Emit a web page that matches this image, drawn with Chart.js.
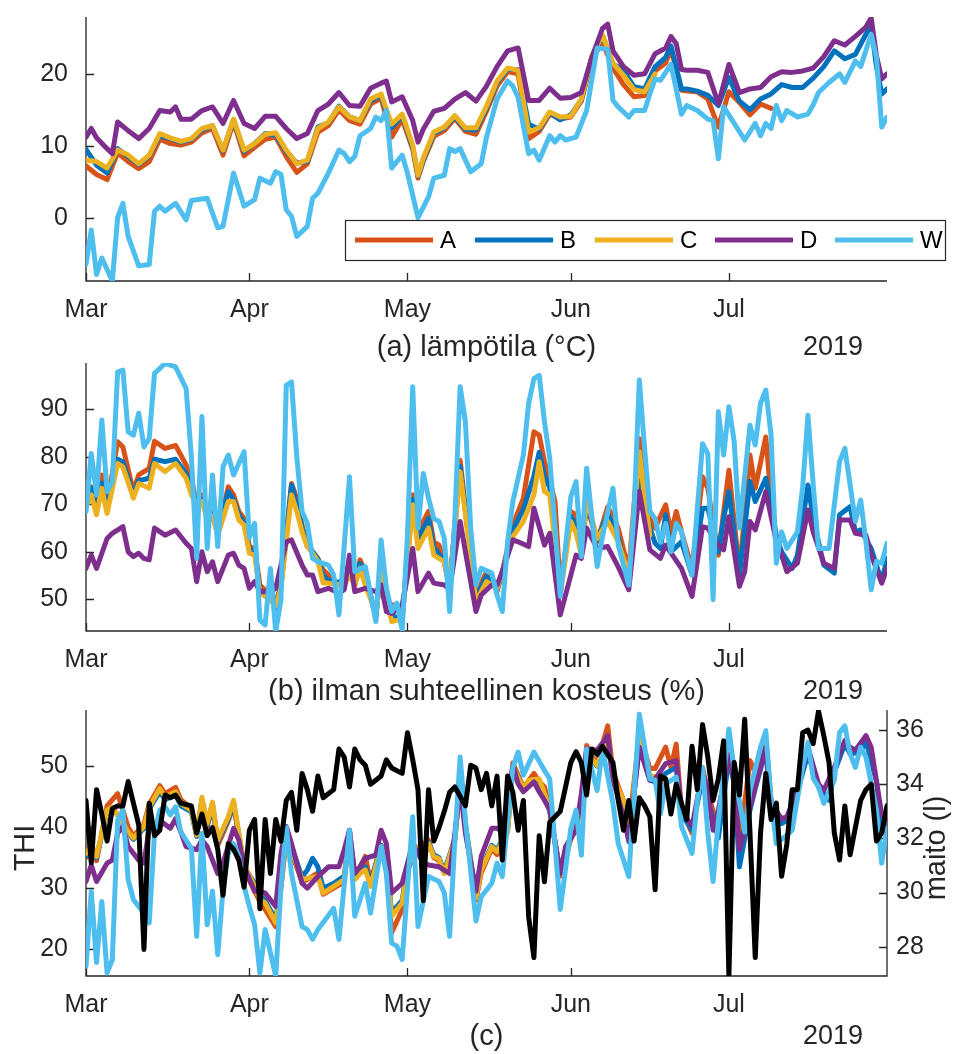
<!DOCTYPE html>
<html><head><meta charset="utf-8">
<script src="https://cdn.jsdelivr.net/npm/chart.js@4.4.0/dist/chart.umd.min.js"></script>
<style>
html,body{margin:0;padding:0;background:#fff;}
#wrap{position:relative;width:967px;height:1054px;overflow:hidden;background:#fff;}
canvas{position:absolute;left:0;}
</style></head><body>
<div id="wrap">
<canvas id="cA" width="967" height="362" style="top:0px"></canvas>
<canvas id="cB" width="967" height="365" style="top:340px"></canvas>
<canvas id="cC" width="967" height="364" style="top:690px"></canvas>
</div>
<script>
// ---- time axis (day index, 0 = 1 Mar 2019) ----
const xMin = 0, xMax = 152;
const monthTicks = [0, 31, 61, 92, 122];
const monthLabels = ['Mar', 'Apr', 'May', 'Jun', 'Jul'];
const yearLabel = '2019';
const seriesNames = ['A', 'B', 'C', 'D', 'W'];

// ---- (a) temperature, [day, value] ----
const tempA = [[0,7.2],[2,6.0],[4,5.3],[6,9.0],[8,7.8],[10,6.8],[12,7.8],[14,10.9],[16,10.3],[18,10.1],[20,10.5],[22,11.8],[24,12.4],[26,8.7],[28,13.3],[30,8.6],[32,9.8],[34,10.9],[36,11.2],[38,8.5],[40,6.3],[42,7.5],[44,11.9],[46,12.8],[48,15.0],[50,13.5],[52,13.0],[54,15.8],[56,16.6],[58,11.2],[60,13.7],[62,9.5],[63,5.5],[64,7.8],[66,11.3],[68,12.1],[70,13.8],[72,12.0],[74,11.6],[76,14.8],[78,18.3],[80,20.3],[82,20.0],[84,11.0],[86,12.0],[88,14.4],[90,13.7],[92,14.0],[94,16.2],[96,22.0],[98,24.4],[100,20.8],[102,18.5],[104,16.8],[106,17.0],[108,20.4],[110,21.5],[111,23.5],[113,17.7],[114,17.6],[116,17.5],[118,16.5],[120,12.6],[122,17.5],[124,16.0],[126,14.3],[128,15.8],[130,15.2]];
const tempB = [[0,9.5],[2,7.3],[4,6.2],[6,9.6],[8,8.5],[10,7.4],[12,8.6],[14,11.4],[16,11.0],[18,10.5],[20,10.9],[22,12.2],[24,12.8],[26,9.3],[28,13.6],[30,9.2],[32,10.3],[34,11.7],[36,11.5],[38,9.2],[40,7.6],[42,7.8],[44,12.6],[46,13.2],[48,15.5],[50,14.0],[52,13.5],[54,16.2],[56,17.0],[58,12.5],[60,14.2],[62,9.8],[63,5.8],[64,8.0],[66,11.7],[68,12.5],[70,14.0],[72,12.3],[74,12.2],[76,15.2],[78,18.8],[80,20.6],[82,20.6],[84,13.0],[86,12.3],[88,14.6],[90,13.6],[92,14.3],[94,16.4],[96,22.4],[98,25.3],[100,21.4],[102,20.5],[104,18.2],[106,17.9],[108,21.0],[110,22.3],[111,23.9],[113,17.9],[114,17.9],[116,17.6],[118,17.0],[120,15.6],[122,19.5],[124,16.2],[126,15.0],[128,16.5],[130,17.2],[132,18.5],[134,18.1],[136,18.1],[138,19.4],[140,21.0],[142,23.2],[144,22.1],[146,22.7],[148,25.5],[149,26.6],[150,21.0],[151,17.2],[152,17.9]];
const tempC = [[0,8.0],[2,7.8],[4,6.9],[6,9.4],[8,8.7],[10,7.5],[12,8.7],[14,11.7],[16,11.1],[18,10.6],[20,11.0],[22,12.4],[24,12.8],[26,9.4],[28,13.7],[30,9.4],[32,10.3],[34,11.6],[36,11.8],[38,9.4],[40,7.5],[42,8.0],[44,12.4],[46,13.3],[48,15.4],[50,14.0],[52,13.5],[54,16.5],[56,17.2],[58,13.0],[60,14.4],[62,10.1],[63,5.9],[64,8.3],[66,11.9],[68,12.6],[70,14.2],[72,12.5],[74,12.5],[76,15.5],[78,19.0],[80,20.8],[82,20.5],[84,11.9],[86,12.5],[88,14.7],[90,14.0],[92,14.1],[94,16.5],[96,22.5],[98,25.4],[100,21.5],[102,19.8],[104,17.8],[106,17.5],[108,20.0]];
const tempD = [[0,11.2],[1,12.4],[2,11.1],[4,9.6],[5,8.9],[6,13.3],[8,12.1],[10,11.0],[12,12.4],[14,14.9],[16,14.7],[17,15.4],[18,13.7],[20,13.7],[22,14.9],[24,15.4],[26,13.1],[28,16.3],[30,13.1],[32,12.4],[34,14.1],[36,14.1],[38,12.4],[40,11.0],[42,11.7],[44,14.9],[46,15.8],[48,17.4],[50,15.6],[52,15.5],[54,18.0],[56,18.7],[57,19.0],[58,16.1],[60,16.8],[62,13.5],[63,10.5],[64,12.3],[66,14.8],[68,15.2],[70,16.5],[72,17.4],[74,16.2],[76,18.3],[78,21.0],[80,23.2],[82,23.6],[84,16.3],[86,16.3],[88,18.0],[90,16.6],[92,16.7],[94,17.4],[96,22.3],[98,26.3],[99,26.9],[100,23.2],[102,21.0],[104,19.8],[106,20.0],[108,22.8],[110,23.6],[111,25.2],[112,24.2],[113,20.6],[114,20.5],[116,20.5],[118,20.2],[120,15.8],[122,21.3],[124,17.4],[126,17.9],[128,18.1],[130,19.6],[132,20.3],[134,20.2],[136,20.4],[138,20.8],[140,22.4],[142,24.6],[144,24.0],[146,25.2],[148,26.5],[149,27.8],[150,22.5],[151,19.3],[152,20.0]];
const tempW = [[0,-6.5],[1,-1.7],[2,-7.9],[3,-5.6],[5,-8.8],[6,0.0],[7,2.0],[8,-2.6],[10,-6.7],[12,-6.5],[13,0.9],[14,1.6],[15,0.9],[17,2.0],[19,-0.3],[20,2.4],[23,2.7],[25,-1.4],[26,-1.2],[28,6.2],[30,1.6],[32,2.5],[33,5.5],[35,4.8],[36,6.4],[37,6.0],[38,1.1],[39,0.2],[40,-2.6],[42,-1.2],[43,2.7],[44,3.4],[46,6.2],[48,9.4],[49,8.9],[50,7.8],[51,8.5],[52,11.4],[54,12.4],[55,14.0],[56,13.5],[57,14.9],[58,6.9],[60,8.7],[61,6.2],[63,0.0],[65,2.9],[66,5.5],[68,5.9],[69,9.6],[70,9.2],[71,9.6],[73,6.4],[75,7.5],[76,11.2],[78,16.5],[80,19.0],[81,18.3],[82,16.7],[84,8.9],[85,9.4],[86,8.0],[88,11.4],[89,10.5],[90,11.4],[91,10.8],[93,11.2],[95,14.9],[97,23.6],[99,23.4],[100,16.3],[101,15.4],[103,14.0],[104,14.9],[106,14.9],[107,17.2],[108,19.3],[109,19.1],[111,21.3],[113,14.4],[114,15.6],[116,14.9],[118,13.7],[119,13.5],[120,8.2],[121,15.4],[123,13.1],[125,10.8],[127,13.1],[128,11.4],[129,13.1],[130,12.4],[131,15.6],[132,13.5],[133,14.9],[135,14.0],[137,14.4],[138,15.7],[139,17.4],[141,18.8],[143,20.0],[144,18.8],[146,21.8],[147,21.0],[149,25.5],[150,22.3],[151,12.6],[152,14.0]];

// ---- (b) relative humidity (%) ----
const rhA = [[0,71.3],[1,73.7],[2,69.2],[3,76.2],[4,69.9],[6,83.2],[7,82.1],[9,72.7],[10,76.2],[12,77.6],[13,83.3],[15,81.8],[17,82.4],[19,78.3],[20,75.5],[21,69.9],[22,72.0],[23,67.8],[24,68.5],[25,64.2],[27,73.7],[28,72.0],[29,68.5],[30,67.0],[31,61.1],[32,60.7],[33,53.0],[35,50.9],[36,49.2],[37,53.0],[39,74.4],[40,71.3],[41,65.6],[42,61.4],[43,60.0],[44,58.6],[45,56.2],[46,55.1],[48,53.0],[49,52.5],[50,56.5],[51,53.0],[52,58.3],[53,55.8],[55,46.0],[56,57.9],[57,48.8],[59,48.8],[60,46.0],[62,72.0],[63,64.2],[65,68.5],[66,62.1],[67,61.4],[68,57.9],[69,52.3],[71,79.3],[72,69.2],[74,50.9],[76,55.8],[77,54.4],[78,51.6],[79,55.8],[81,65.6],[83,71.3],[85,85.3],[86,84.6],[87,79.0],[88,75.1],[89,70.6],[90,52.3],[92,68.5],[93,67.8],[94,60.0],[95,69.9],[97,62.1],[99,69.5],[101,65.0],[103,56.0],[105,83.9],[106,72.7],[107,67.0],[108,65.0],[110,69.9],[111,63.9],[112,68.5],[113,64.2],[115,56.5],[117,75.8],[118,73.4],[120,59.3],[121,68.5],[122,77.2],[124,55.8],[126,80.4],[127,73.4],[129,84.2],[130,71.3]];
const rhB = [[0,70.0],[1,73.4],[2,68.5],[3,74.5],[4,69.0],[6,79.5],[7,79.0],[9,72.0],[10,75.0],[12,75.5],[13,79.5],[15,79.0],[17,79.5],[19,76.5],[20,73.5],[21,70.0],[22,71.0],[23,67.5],[24,68.0],[25,64.0],[27,72.7],[28,71.0],[29,67.8],[30,66.0],[31,60.5],[32,60.0],[33,52.0],[35,50.5],[36,48.1],[37,52.8],[39,74.1],[40,70.0],[41,65.0],[42,61.1],[43,60.0],[44,58.5],[45,55.0],[46,54.0],[48,53.5],[50,56.0],[51,53.0],[52,57.5],[53,54.5],[55,46.5],[56,57.0],[58,46.5],[60,46.0],[62,71.0],[63,62.5],[65,67.0],[66,61.0],[68,57.9],[69,52.3],[71,78.0],[72,68.5],[74,50.2],[76,54.8],[78,52.0],[79,55.8],[81,64.5],[83,69.0],[85,76.0],[86,81.0],[87,76.0],[88,73.5],[90,51.5],[92,67.5],[93,65.5],[94,59.5],[95,70.6],[97,62.5],[99,68.0],[101,63.0],[103,53.7],[105,75.5],[106,68.5],[108,61.8],[109,60.7],[110,67.8],[111,60.0],[113,62.1],[115,55.1],[117,69.2],[118,69.2],[120,60.0],[121,67.0],[122,72.7],[124,55.1],[126,74.8],[127,70.6],[129,75.5],[131,63.5],[132,60.0],[134,56.5],[135,59.3],[137,74.1],[138,67.0],[140,57.2],[142,55.5],[143,67.8],[145,69.5],[146,64.2],[147,64.6],[149,60.7],[151,53.7],[152,58.6]];
const rhC = [[0,69.5],[1,72.0],[2,67.8],[3,73.4],[4,68.1],[6,78.6],[7,77.9],[9,71.3],[10,74.4],[12,73.4],[13,78.6],[15,76.9],[17,78.6],[19,75.5],[20,72.0],[21,69.9],[22,70.6],[23,67.0],[24,67.5],[25,63.5],[27,70.6],[28,70.6],[29,66.7],[30,65.6],[31,59.7],[32,59.3],[33,51.3],[35,49.9],[36,48.5],[37,52.3],[39,72.0],[40,68.5],[41,64.2],[42,61.1],[43,59.7],[44,58.0],[45,53.4],[46,53.4],[48,53.0],[50,55.1],[51,53.0],[52,56.5],[53,53.0],[55,47.0],[56,55.8],[58,45.3],[60,45.8],[62,69.9],[63,60.7],[65,65.0],[66,59.3],[68,57.9],[69,52.3],[71,76.9],[72,67.8],[74,49.5],[76,53.7],[78,52.3],[79,55.8],[81,63.2],[83,66.4],[85,72.0],[86,79.0],[87,72.7],[88,72.0],[90,50.9],[92,66.4],[93,63.9],[94,59.3],[95,71.3],[97,62.8],[99,66.4],[101,62.1],[103,55.0],[105,81.1],[106,71.3],[107,63.5]];
const rhD = [[0,56.5],[1,59.3],[2,56.5],[4,62.8],[5,63.9],[7,65.3],[8,60.0],[9,59.0],[10,59.7],[11,58.6],[12,58.3],[13,65.0],[15,63.5],[17,64.6],[19,61.8],[20,60.7],[21,53.7],[22,60.0],[23,55.8],[24,57.9],[25,53.7],[27,59.3],[28,59.7],[29,57.2],[30,56.5],[31,52.3],[32,53.7],[33,51.6],[35,51.6],[36,52.3],[38,62.1],[39,62.5],[41,57.2],[42,55.1],[43,55.1],[44,51.6],[46,52.3],[48,51.3],[49,52.0],[50,59.3],[51,51.6],[53,52.3],[55,51.6],[56,53.0],[57,47.4],[58,47.0],[60,48.8],[62,60.7],[63,51.6],[65,55.5],[66,53.4],[68,53.0],[69,52.0],[71,66.4],[72,60.0],[74,47.4],[75,50.9],[77,53.0],[78,53.0],[79,55.8],[81,62.5],[82,62.1],[84,61.1],[85,69.2],[87,61.4],[88,63.9],[90,46.7],[92,55.1],[93,59.3],[94,58.6],[95,65.0],[97,60.7],[99,61.1],[101,56.8],[103,52.0],[105,72.7],[107,60.4],[109,58.6],[110,61.4],[113,56.5],[115,50.6],[117,65.3],[118,65.0],[120,61.4],[121,60.4],[122,67.4],[124,52.7],[125,55.8],[126,66.4],[127,64.6],[129,72.7],[131,62.1],[132,59.3],[133,55.8],[135,57.6],[137,68.8],[138,64.2],[140,57.6],[142,56.5],[143,66.7],[145,66.7],[146,63.9],[148,63.5],[149,59.3],[151,53.4],[152,56.5]];
const rhW = [[0,68.5],[1,80.7],[2,72.0],[3,87.8],[4,72.7],[5,74.8],[6,97.9],[7,98.3],[8,85.3],[9,84.6],[10,89.2],[11,82.1],[12,83.9],[13,97.6],[15,99.7],[17,99.0],[19,94.4],[20,80.0],[21,58.6],[22,88.5],[23,60.7],[24,76.2],[25,61.1],[26,77.9],[27,80.4],[28,76.2],[30,81.1],[31,63.0],[32,66.0],[33,45.6],[34,44.6],[35,56.5],[36,43.2],[37,49.9],[38,95.1],[39,95.8],[40,80.0],[41,68.5],[42,66.0],[43,58.6],[44,57.9],[46,57.2],[47,55.1],[48,46.7],[50,75.8],[51,55.8],[53,56.9],[55,45.3],[56,62.5],[57,52.3],[58,47.4],[59,49.2],[60,43.5],[61,63.5],[62,94.8],[63,65.0],[64,76.5],[65,71.3],[66,67.0],[67,66.4],[68,62.8],[69,47.4],[70,67.0],[71,94.8],[72,87.4],[73,65.0],[74,53.0],[75,56.5],[77,55.5],[78,50.9],[79,47.4],[80,62.1],[81,70.6],[83,80.4],[84,91.3],[85,96.5],[86,97.2],[87,87.4],[88,79.7],[90,50.6],[92,71.6],[93,74.8],[94,59.0],[95,77.6],[97,56.9],[98,63.2],[100,73.4],[101,61.4],[103,53.0],[104,68.5],[105,96.2],[106,81.8],[107,68.5],[108,67.0],[109,62.0],[110,66.0],[111,60.0],[112,66.0],[113,64.2],[114,59.3],[115,55.1],[117,82.8],[118,80.7],[119,49.9],[120,89.5],[121,80.4],[122,90.6],[123,83.2],[124,65.0],[126,86.7],[127,82.5],[128,91.3],[129,94.1],[130,84.6],[131,57.6],[132,64.2],[133,60.7],[135,64.2],[136,73.7],[137,88.8],[138,74.1],[139,60.7],[141,60.7],[143,79.0],[144,81.8],[146,66.4],[147,70.9],[148,62.1],[149,52.0],[150,58.0],[151,57.6],[152,61.8]];

// ---- (c) THI and milk yield (l) ----
const thiA = [[0,35.0],[1,37.5],[2,34.5],[4,43.5],[6,45.5],[8,40.0],[9,38.5],[11,40.5],[12,43.8],[14,46.8],[15,45.5],[17,46.5],[18,44.5],[20,43.0],[21,38.5],[22,44.5],[23,40.0],[24,43.5],[25,37.0],[27,41.0],[28,43.5],[29,38.5],[30,33.0],[32,29.5],[33,27.8],[34,26.5],[36,23.7],[37,30.0],[38,38.0],[39,35.8],[41,31.0],[42,31.4],[44,32.5],[45,29.0],[47,30.0],[49,31.0],[50,39.0],[51,31.5],[52,33.5],[53,35.2],[54,31.0],[56,37.0],[57,34.0],[58,22.7],[60,26.5],[61,33.0],[63,36.5],[65,37.9],[66,35.0],[67,34.5],[68,32.5],[70,38.0],[71,47.5],[72,40.0],[74,28.0],[75,32.5],[77,36.5],[78,35.5],[80,39.5],[81,50.5],[83,46.5],[85,48.8],[86,47.5],[87,46.6],[88,43.0],[90,32.0],[92,38.0],[94,42.5],[95,53.4],[96,51.5],[97,50.5],[99,56.6],[100,49.0],[102,44.4],[103,39.5],[105,55.3],[107,49.6],[108,49.6],[110,53.1],[111,49.8],[112,53.6],[113,42.8],[115,39.0],[117,49.8],[118,45.5],[120,39.8],[121,47.1],[122,52.0],[123,50.4],[124,37.3],[126,50.9],[127,49.0],[129,54.2],[130,44.4]];
const thiB = [[0,35.2],[1,36.5],[2,35.0],[4,42.5],[5,43.0],[6,42.0],[8,39.0],[9,38.0],[11,39.8],[12,43.0],[14,45.8],[15,44.5],[17,45.3],[18,43.5],[20,42.5],[21,38.5],[22,44.5],[23,40.3],[24,43.8],[25,37.6],[27,41.3],[28,44.0],[29,38.8],[30,33.5],[32,30.8],[33,28.8],[34,28.0],[36,24.8],[37,31.0],[38,38.8],[39,36.8],[41,31.8],[42,33.0],[43,34.9],[44,33.5],[45,30.0],[47,30.8],[49,32.0],[50,39.5],[51,31.8],[52,32.8],[53,33.5],[54,30.8],[56,37.0],[57,34.8],[58,26.0],[60,28.0],[61,33.5],[63,36.5],[64,34.5],[65,37.5],[66,35.5],[67,35.0],[68,32.8],[70,38.0],[71,47.5],[72,40.5],[74,28.8],[75,33.3],[77,37.0],[78,36.3],[80,39.5],[81,49.5],[83,46.5],[84,47.5],[86,47.6],[87,45.3],[88,42.6],[90,32.6],[92,38.6],[94,42.5],[95,52.5],[96,51.0],[97,50.0],[99,54.3],[100,48.0],[102,42.2],[103,37.6],[105,53.4],[107,47.7],[108,47.4],[110,48.8],[111,49.3],[112,49.8],[113,42.2],[115,39.5],[117,48.2],[118,44.4],[120,38.2],[121,44.9],[122,51.2],[123,47.1],[124,33.5],[126,42.8],[127,46.3],[129,52.6],[130,43.9],[132,40.6],[133,41.1],[135,45.8],[137,52.0],[139,46.6],[141,44.4],[142,49.0],[144,53.6],[145,52.0],[147,52.3],[148,54.2],[150,47.5],[151,40.0],[152,41.1]];
const thiC = [[0,35.7],[1,36.8],[2,35.2],[4,42.8],[5,43.3],[6,42.0],[8,39.2],[9,38.2],[11,40.1],[12,43.3],[14,46.3],[15,44.9],[17,45.8],[18,43.9],[20,42.8],[21,38.7],[22,44.9],[23,40.6],[24,44.1],[25,37.9],[27,41.7],[28,44.4],[29,39.0],[30,33.8],[32,30.3],[33,28.1],[34,27.6],[36,24.3],[37,30.8],[38,38.4],[39,36.3],[41,31.4],[42,31.6],[44,31.9],[45,29.2],[47,30.3],[49,31.4],[50,39.5],[51,31.4],[52,32.4],[53,33.0],[54,30.3],[56,36.8],[57,34.6],[58,25.4],[60,27.6],[61,33.5],[63,36.8],[64,34.5],[65,37.3],[66,35.2],[67,34.8],[68,32.4],[70,37.9],[71,47.7],[72,40.1],[74,28.4],[75,33.0],[77,36.8],[78,36.0],[80,39.2],[81,49.8],[83,46.3],[84,47.7],[86,47.9],[87,45.5],[88,42.8],[90,32.4],[92,38.4],[94,42.2],[95,52.6],[96,51.2],[97,50.1],[99,54.5],[100,48.2],[102,44.4],[103,37.9],[105,54.7],[107,48.5],[108,48.2]];
const thiD = [[0,31.1],[1,33.8],[2,31.1],[4,34.1],[5,34.6],[6,39.0],[7,40.1],[8,36.8],[10,34.6],[11,34.1],[12,39.8],[13,39.8],[14,41.1],[16,39.8],[17,41.4],[18,39.2],[19,36.8],[21,36.3],[22,37.9],[23,36.8],[25,32.4],[26,34.1],[28,39.8],[29,37.9],[30,33.5],[32,29.5],[33,29.5],[34,29.2],[36,27.0],[37,35.7],[38,40.1],[39,37.3],[41,30.8],[42,30.0],[44,31.9],[46,33.5],[48,33.5],[49,36.3],[50,39.5],[51,32.4],[52,33.5],[53,34.9],[55,35.4],[56,39.5],[57,37.3],[58,29.2],[60,30.8],[62,37.3],[64,34.1],[65,33.8],[67,33.5],[69,32.4],[70,39.0],[71,46.6],[72,39.0],[74,29.5],[75,35.2],[77,39.8],[78,39.8],[79,39.3],[81,50.1],[82,47.1],[83,45.8],[85,47.4],[86,45.8],[87,44.4],[88,42.8],[90,32.4],[91,36.8],[93,39.5],[94,45.5],[95,52.8],[97,52.6],[99,55.0],[100,47.7],[102,41.7],[103,37.9],[105,53.1],[107,47.7],[108,47.9],[110,50.4],[112,50.9],[113,42.8],[115,40.1],[117,49.0],[118,46.0],[119,39.5],[120,42.8],[122,51.7],[123,47.4],[124,36.3],[126,43.3],[127,46.6],[129,53.1],[130,43.9],[132,41.4],[133,41.7],[135,46.0],[137,53.1],[139,47.1],[140,46.0],[142,49.8],[144,54.2],[145,53.1],[146,52.6],[148,55.0],[149,53.1],[151,42.0],[152,41.5]];
const thiW = [[0,17.2],[1,29.5],[2,17.8],[3,27.8],[4,16.1],[5,18.3],[6,41.1],[7,42.8],[8,31.4],[9,28.1],[11,25.9],[12,24.3],[13,39.0],[14,42.8],[15,43.3],[16,42.0],[17,43.3],[18,39.2],[20,36.5],[21,22.1],[22,39.0],[23,24.0],[24,29.5],[25,19.1],[26,29.7],[27,35.7],[28,37.3],[29,35.2],[30,30.3],[31,27.0],[32,24.0],[33,16.1],[34,23.2],[36,15.6],[37,30.3],[38,40.0],[39,32.4],[41,23.7],[42,23.2],[43,21.6],[44,23.2],[47,26.7],[48,21.6],[50,39.5],[51,25.4],[53,30.8],[54,25.9],[56,36.8],[57,32.4],[58,21.0],[59,20.5],[60,18.3],[62,41.7],[63,23.7],[65,31.9],[67,31.1],[68,29.2],[69,22.1],[70,37.9],[71,51.5],[72,41.1],[74,24.6],[75,28.6],[77,30.8],[78,34.1],[79,31.9],[81,49.8],[82,52.3],[83,48.5],[85,52.3],[87,49.3],[88,47.9],[90,26.5],[92,39.8],[93,42.8],[94,35.4],[95,52.8],[97,46.0],[98,52.8],[100,43.9],[101,37.3],[103,31.9],[105,58.5],[107,47.9],[108,47.7],[109,42.2],[110,47.1],[112,48.2],[113,40.1],[115,35.7],[116,44.4],[117,49.8],[118,39.0],[119,31.1],[120,41.1],[122,56.1],[123,49.3],[125,39.2],[126,46.0],[127,49.6],[128,53.1],[129,55.8],[130,44.4],[131,37.3],[133,38.7],[134,39.5],[136,49.8],[137,53.9],[138,48.0],[139,46.6],[140,43.9],[142,47.7],[143,55.5],[144,56.6],[145,52.0],[146,49.8],[147,53.1],[148,51.5],[150,42.8],[151,34.1],[152,39.8]];
const milk = [[0,33.4],[1,31.1],[2,33.8],[3,32.9],[4,31.9],[5,33.1],[6,33.2],[7,33.2],[8,34.1],[9,33.3],[10,32.5],[11,27.9],[12,33.3],[13,32.1],[14,32.3],[15,33.6],[16,33.5],[17,33.6],[18,33.3],[20,33.2],[21,32.2],[22,32.9],[23,32.1],[24,32.4],[25,31.6],[26,29.9],[27,31.8],[28,31.6],[29,31.2],[30,30.2],[31,32.3],[32,32.7],[33,29.4],[34,32.7],[35,30.7],[36,32.7],[37,31.9],[38,33.4],[39,33.7],[40,32.3],[41,34.4],[42,33.8],[43,33.0],[44,34.3],[45,33.5],[47,33.8],[48,35.3],[49,35.0],[50,33.9],[51,35.3],[52,34.9],[53,34.7],[54,34.0],[56,34.3],[57,34.9],[58,34.6],[60,34.4],[61,35.9],[62,34.9],[63,33.8],[64,29.7],[65,33.8],[66,31.9],[67,32.4],[68,33.0],[69,33.7],[70,33.9],[72,33.2],[73,34.7],[74,34.6],[75,33.8],[76,34.4],[77,33.2],[78,34.3],[79,31.2],[80,34.3],[81,33.7],[82,32.3],[83,33.4],[84,29.1],[85,27.6],[86,32.1],[87,30.4],[88,32.6],[90,33.0],[91,33.9],[92,34.8],[93,35.2],[94,34.8],[95,33.6],[96,35.3],[97,35.1],[98,35.4],[100,34.8],[101,33.4],[102,32.3],[103,33.4],[104,31.9],[105,33.5],[106,33.2],[107,32.8],[108,30.1],[109,34.3],[110,34.2],[111,32.9],[112,34.0],[113,33.3],[114,32.7],[115,35.4],[116,33.8],[117,36.2],[118,35.0],[119,33.4],[120,34.2],[121,35.6],[122,26.9],[123,34.8],[124,33.6],[125,36.4],[126,32.2],[127,27.6],[128,32.2],[129,34.4],[130,32.7],[131,33.3],[132,30.6],[133,31.8],[134,33.8],[135,33.8],[136,35.9],[137,36.0],[138,35.5],[139,36.7],[140,35.8],[141,34.8],[142,32.2],[143,31.2],[144,33.2],[145,31.4],[147,33.4],[148,33.8],[149,34.0],[150,31.9],[151,32.2],[152,33.2]];

// ---- axis ranges & ticks ----
const tempRange = [-8.8, 27.9], tempTicks = [0, 10, 20];
const rhRange = [43.3, 99.8], rhTicks = [50, 60, 70, 80, 90];
const thiRange = [15.6, 59.2], thiTicks = [20, 30, 40, 50];
const milkRange = [26.92, 36.74], milkTicks = [28, 30, 32, 34, 36];

// ---- styling ----
const FONT = '"Liberation Sans", Arial, Helvetica, sans-serif';
const TXT = '#262626';
const COLORS = ['#D95319', '#0072BD', '#EDB120', '#7E2F8E', '#4DBEEE'];
const MILK_COLOR = '#000000';
const LW = 5;
const TICK_FONT = 25, LABEL_FONT = 29, YEAR_FONT = 27, LEGEND_FONT = 24;

// order: later series drawn on top (as in the original plot)
function ds(label, data, color, drawIndex, axis) {
  return { label, data: data.map(p => ({ x: p[0], y: p[1] })), borderColor: color, backgroundColor: color,
    borderWidth: LW, pointRadius: 0, pointHoverRadius: 0, tension: 0, fill: false,
    borderJoinStyle: 'round', borderCapStyle: 'round', yAxisID: axis || 'y', order: 10 - drawIndex };
}
function zeroPad(s) { s.paddingTop = 0; s.paddingBottom = 0; s.paddingLeft = 0; s.paddingRight = 0; }
function xScale(h) {
  return { type: 'linear', min: xMin, max: xMax, position: 'bottom',
    grid: { display: false, drawTicks: false }, border: { display: false },
    afterBuildTicks: s => { s.ticks = monthTicks.map(v => ({ value: v })); },
    ticks: { autoSkip: false, maxRotation: 0, minRotation: 0, padding: 14, color: TXT,
      font: { family: FONT, size: TICK_FONT }, callback: v => monthLabels[monthTicks.indexOf(v)] },
    afterFit: s => { s.height = h; zeroPad(s); } };
}
function yScale(range, ticks, pos, w, pad) {
  return { type: 'linear', min: range[0], max: range[1], position: pos,
    grid: { display: false, drawTicks: false }, border: { display: false },
    afterBuildTicks: s => { s.ticks = ticks.map(v => ({ value: v })); },
    ticks: { autoSkip: false, padding: pad, color: TXT, font: { family: FONT, size: TICK_FONT } },
    afterFit: s => { s.width = w; zeroPad(s); } };
}

function decoPlugin(cfg) {
  return {
    id: 'deco',
    beforeDatasetsDraw(chart) {
      const { ctx, chartArea: a } = chart;
      ctx.save();
      ctx.strokeStyle = TXT; ctx.lineWidth = 1.3; ctx.lineCap = 'butt';
      ctx.beginPath();
      ctx.moveTo(a.left, a.top); ctx.lineTo(a.left, a.bottom); ctx.lineTo(a.right, a.bottom);
      if (cfg.right) ctx.lineTo(a.right, a.top);
      ctx.stroke();
      const TL = 8;
      ctx.beginPath();
      const xs = chart.scales.x;
      monthTicks.forEach(v => { const p = Math.round(xs.getPixelForValue(v)) + 0.5; ctx.moveTo(p, a.bottom); ctx.lineTo(p, a.bottom - TL); });
      const ys = chart.scales.y;
      ys.ticks.forEach(t => { const p = Math.round(ys.getPixelForValue(t.value)) + 0.5; ctx.moveTo(a.left, p); ctx.lineTo(a.left + TL, p); });
      if (cfg.right) {
        const y2 = chart.scales.y2;
        y2.ticks.forEach(t => { const p = Math.round(y2.getPixelForValue(t.value)) + 0.5; ctx.moveTo(a.right, p); ctx.lineTo(a.right - TL, p); });
      }
      ctx.stroke();
      ctx.restore();
    },
    afterDatasetsDraw(chart) {
      if (!cfg.legend) return;
      const { ctx } = chart;
      const L = cfg.legend;
      ctx.save();
      ctx.fillStyle = '#ffffff';
      ctx.fillRect(L.x, L.y, L.w, L.h);
      ctx.strokeStyle = TXT; ctx.lineWidth = 1.2;
      ctx.strokeRect(L.x + 0.5, L.y + 0.5, L.w, L.h);
      const cy = L.y + L.h / 2;
      chart.data.datasets.forEach((d, i) => {
        const x0 = L.x + 10 + i * 120;
        ctx.strokeStyle = d.borderColor; ctx.lineWidth = LW; ctx.lineCap = 'butt';
        ctx.beginPath(); ctx.moveTo(x0, cy); ctx.lineTo(x0 + 78, cy); ctx.stroke();
        ctx.fillStyle = '#000'; ctx.font = LEGEND_FONT + 'px ' + FONT;
        ctx.textAlign = 'left'; ctx.textBaseline = 'middle';
        ctx.fillText(d.label, x0 + 85, cy + 1);
      });
      ctx.restore();
    },
    afterDraw(chart) {
      const { ctx, chartArea: a } = chart;
      ctx.save();
      ctx.fillStyle = TXT;
      ctx.textBaseline = 'middle';
      ctx.font = LABEL_FONT + 'px ' + FONT;
      ctx.textAlign = 'center';
      ctx.fillText(cfg.title, (a.left + a.right) / 2, cfg.titleY);
      ctx.font = YEAR_FONT + 'px ' + FONT;
      ctx.textAlign = 'right';
      ctx.fillText(yearLabel, 863, cfg.titleY);
      if (cfg.yTitle) {
        ctx.font = LABEL_FONT + 'px ' + FONT;
        ctx.textAlign = 'center';
        ctx.save(); ctx.translate(26, (a.top + a.bottom) / 2 + 5); ctx.rotate(-Math.PI / 2);
        ctx.fillText(cfg.yTitle, 0, 0); ctx.restore();
      }
      if (cfg.y2Title) {
        ctx.font = LABEL_FONT + 'px ' + FONT;
        ctx.textAlign = 'center';
        ctx.save(); ctx.translate(937, (a.top + a.bottom) / 2 + 5); ctx.rotate(-Math.PI / 2);
        ctx.fillText(cfg.y2Title, 0, 0); ctx.restore();
      }
      ctx.restore();
    }
  };
}

const baseOpts = { responsive: false, animation: false, devicePixelRatio: 1, events: [],
  plugins: { legend: { display: false }, tooltip: { enabled: false } } };

// (a)
new Chart(document.getElementById('cA'), {
  type: 'line',
  data: { datasets: [ds(seriesNames[0], tempA, COLORS[0], 0), ds(seriesNames[1], tempB, COLORS[1], 1), ds(seriesNames[2], tempC, COLORS[2], 2), ds(seriesNames[3], tempD, COLORS[3], 3), ds(seriesNames[4], tempW, COLORS[4], 4)] },
  options: Object.assign({}, baseOpts, {
    layout: { padding: { top: 17, left: 0, right: 80, bottom: 0 } },
    scales: { x: xScale(81), y: yScale(tempRange, tempTicks, 'left', 86, 18) }
  }),
  plugins: [decoPlugin({ title: '(a) lämpötila (°C)', titleY: 348, legend: { x: 345, y: 220, w: 600, h: 40 } })]
});

// (b)
new Chart(document.getElementById('cB'), {
  type: 'line',
  data: { datasets: [ds(seriesNames[0], rhA, COLORS[0], 0), ds(seriesNames[1], rhB, COLORS[1], 1), ds(seriesNames[2], rhC, COLORS[2], 2), ds(seriesNames[3], rhD, COLORS[3], 3), ds(seriesNames[4], rhW, COLORS[4], 4)] },
  options: Object.assign({}, baseOpts, {
    layout: { padding: { top: 23, left: 0, right: 80, bottom: 0 } },
    scales: { x: xScale(74), y: yScale(rhRange, rhTicks, 'left', 86, 18) }
  }),
  plugins: [decoPlugin({ title: '(b) ilman suhteellinen kosteus (%)', titleY: 352 })]
});

// (c)
new Chart(document.getElementById('cC'), {
  type: 'line',
  data: { datasets: [ds(seriesNames[0], thiA, COLORS[0], 0), ds(seriesNames[1], thiB, COLORS[1], 1), ds(seriesNames[2], thiC, COLORS[2], 2), ds(seriesNames[3], thiD, COLORS[3], 3), ds(seriesNames[4], thiW, COLORS[4], 4), ds('maito', milk, MILK_COLOR, 5, 'y2')] },
  options: Object.assign({}, baseOpts, {
    layout: { padding: { top: 20, left: 0, right: 0, bottom: 0 } },
    scales: { x: xScale(78), y: yScale(thiRange, thiTicks, 'left', 86, 18), y2: yScale(milkRange, milkTicks, 'right', 80, 9) }
  }),
  plugins: [decoPlugin({ title: '(c)', titleY: 347, right: true, yTitle: 'THI', y2Title: 'maito (l)' })]
});
</script>
</body></html>
